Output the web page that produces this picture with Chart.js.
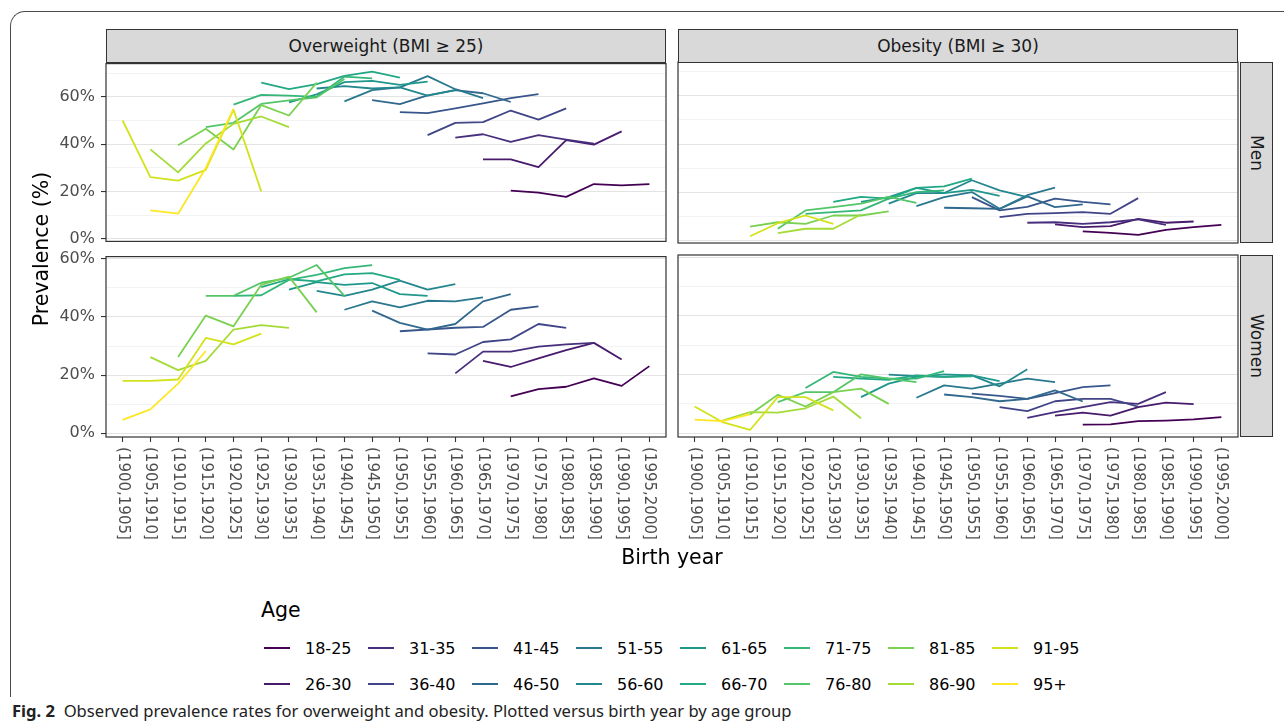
<!DOCTYPE html>
<html><head><meta charset="utf-8">
<script src="https://cdn.jsdelivr.net/npm/chart.js@4.4.1/dist/chart.umd.min.js"></script>
<style>
html,body{margin:0;padding:0;background:#fff;}
body{width:1284px;height:728px;overflow:hidden;position:relative;font-family:"DejaVu Sans",sans-serif;}
canvas{position:absolute;}
.frame{position:absolute;left:10px;top:11px;width:1320px;height:686px;border-top:1.3px solid #4a4a4a;border-left:1.3px solid #4a4a4a;border-top-left-radius:15px;box-sizing:border-box;}
.strip{position:absolute;background:#D9D9D9;border:1.2px solid #333;box-sizing:border-box;display:flex;align-items:center;justify-content:center;color:#1a1a1a;font-size:17px;z-index:2;}
.vstrip{writing-mode:vertical-rl;}
.ytitle{position:absolute;left:-59px;top:237px;width:200px;height:24px;line-height:24px;text-align:center;font-size:20.5px;color:#000;transform:rotate(-90deg);}
.xtitle{position:absolute;left:472px;top:547px;width:400px;line-height:20.5px;text-align:center;font-size:20.5px;color:#000;}
.ltitle{position:absolute;left:261px;top:600px;line-height:20.5px;font-size:20.5px;color:#000;}
.litem{position:absolute;height:20px;display:flex;align-items:center;font-size:16px;color:#000;}
.litem span.key{display:inline-block;width:26px;height:2px;margin-right:15px;}
.caption{position:absolute;left:12px;top:699px;font-family:"Noto Sans",sans-serif;font-size:16.6px;color:#222;white-space:nowrap;}
</style></head>
<body>
<div class="frame"></div>
<canvas id="c1" width="672" height="209" style="left:0px;top:48px"></canvas>
<canvas id="c2" width="572" height="209" style="left:672px;top:48px"></canvas>
<canvas id="c3" width="672" height="306" style="left:0px;top:241px"></canvas>
<canvas id="c4" width="572" height="306" style="left:672px;top:241px"></canvas>
<div class="strip" style="left:106px;top:29px;width:560px;height:34px">Overweight (BMI ≥ 25)</div>
<div class="strip" style="left:678px;top:29px;width:560px;height:34px">Obesity (BMI ≥ 30)</div>
<div class="strip vstrip" style="left:1240px;top:62px;width:33px;height:181px">Men</div>
<div class="strip vstrip" style="left:1240px;top:255px;width:33px;height:182px">Women</div>
<div class="ytitle">Prevalence (%)</div>
<div class="xtitle">Birth year</div>
<div class="ltitle">Age</div>
<div id="legend"></div>
<div class="caption"><b>Fig. 2</b>&nbsp; Observed prevalence rates for overweight and obesity. Plotted versus birth year by age group</div>
<script>
// ---- data ----
const cohorts = ["(1900,1905]","(1905,1910]","(1910,1915]","(1915,1920]","(1920,1925]","(1925,1930]","(1930,1935]","(1935,1940]","(1940,1945]","(1945,1950]","(1950,1955]","(1955,1960]","(1960,1965]","(1965,1970]","(1970,1975]","(1975,1980]","(1980,1985]","(1985,1990]","(1990,1995]","(1995,2000]"];
const ages = ["18-25","26-30","31-35","36-40","41-45","46-50","51-55","56-60","61-65","66-70","71-75","76-80","81-85","86-90","91-95","95+"];
const colors = ["#440154","#481A6C","#472F7D","#414487","#39568C","#31688E","#2A788E","#23888E","#1F988B","#22A884","#35B779","#54C568","#7AD151","#A5DB36","#D2E21B","#FDE725"];
const yTicksTop = [0,10,20,30,40,50,60,70];
const yTicksBottom = [0,10,20,30,40,50,60];

// first cohort index of each age-group line, per panel
const owMenStart = [14,13,12,11,10,9,8,7,6,5,4,3,2,1,0,1];
const owMen = [
  [20.4,19.6,17.8,23.2,22.6,23.2],
  [33.6,33.6,30.3,41.7,39.8,45.4],
  [42.8,44.2,41.0,43.8,41.9,40.2],
  [43.8,49.0,49.3,54.2,50.4,55.1],
  [53.5,53.1,55.1,57.2,59.4,61.1],
  [58.6,56.9,60.6,62.8,61.5,57.8],
  [58.1,62.8,64.0,68.7,63.2,59.4],
  [63.5,64.5,63.5,64.0,60.5,62.8],
  [57.6,61.0,66.2,66.7,65.0,66.4],
  [66.0,63.2,65.3,68.8,70.6,68.1],
  [56.7,60.8,60.5,60.0,68.5,67.8],
  [47.2,49.0,57.0,58.5,59.8,67.5],
  [39.6,46.5,37.8,56.5,52.1,66.0],
  [37.8,28.1,40.3,48.6,51.7,47.2],
  [50.0,26.1,24.6,29.2,54.5,20.1],
  [12.1,10.7,30.0,55.0]
];
const obMenStart = [14,13,12,11,10,9,8,7,6,5,4,3,2,3,2,0];
const obMen = [
  [3.8,3.2,2.4,4.4,5.6,6.5],
  [6.7,5.6,6.0,9.0,7.4,7.9],
  [7.4,7.6,6.9,7.6,8.8,6.5],
  [9.7,11.1,11.4,11.8,11.1,17.6],
  [18.0,12.5,14.0,17.4,16.0,15.0],
  [13.6,13.4,13.1,18.3,13.9,15.0],
  [14.3,18.0,20.1,13.2,18.8,21.9],
  [15.3,19.7,19.7,25.0,20.8,18.0],
  [16.0,18.0,21.8,19.7,21.0,18.5],
  [16.0,18.1,17.4,21.8,22.5,25.7],
  [11.1,11.8,12.5,17.4,20.1,20.8],
  [4.9,12.5,13.9,15.3,18.1,15.6],
  [5.8,7.6,6.9,10.4,10.4,12.1],
  [3.1,4.9,4.9,10.8],
  [1.8,7.2,10.4,6.9],
  []
];
const owWomenStart = [14,13,12,11,10,9,8,7,6,5,4,3,2,1,0,0];
const owWomen = [
  [12.7,15.2,16.0,18.9,16.3,23.1],
  [24.9,22.8,25.8,28.6,31.1,25.4],
  [20.6,28.1,28.1,29.8,30.6,31.1],
  [27.5,27.1,31.4,32.3,37.6,36.3],
  [35.1,35.7,36.3,36.6,42.5,43.7],
  [42.2,38.0,35.7,37.6,45.4,47.9],
  [42.5,45.4,43.3,45.6,45.4,46.8],
  [49.0,47.3,49.4,52.5,49.4,51.3],
  [49.4,52.0,51.1,51.7,47.9,47.3],
  [50.3,53.0,52.3,54.7,55.1,52.8],
  [47.3,47.5,52.8,54.5,56.8,57.9],
  [47.3,47.3,51.8,53.5,57.9,47.3],
  [26.2,40.5,36.8,51.1,53.9,41.6],
  [26.2,21.7,24.9,35.7,37.2,36.3],
  [18.0,18.0,18.5,32.8,30.6,34.3],
  [4.6,8.2,17.1,28.3]
];
const obWomenStart = [14,13,12,11,10,9,8,7,6,5,4,3,2,1,0,0];
const obWomen = [
  [2.9,3.0,4.1,4.3,4.7,5.5],
  [6.0,7.0,6.0,8.9,10.4,9.9],
  [5.2,7.2,8.9,10.6,10.0,14.0],
  [8.9,7.5,10.9,11.7,11.7,9.1],
  [13.5,12.7,11.7,13.7,15.7,16.3],
  [13.2,12.3,10.9,11.7,14.6,10.8],
  [12.1,16.3,15.2,16.9,18.6,17.4],
  [20.0,19.5,19.2,19.7,16.0,21.8],
  [12.3,16.9,19.2,20.1,19.7,17.8],
  [19.2,18.6,18.2,19.7,19.2,19.4],
  [15.4,20.9,19.2,18.6,18.6,21.2],
  [10.6,14.0,14.0,20.1,18.6,17.4],
  [6.4,13.1,9.1,14.0,15.2,10.0],
  [4.3,7.2,7.0,8.5,12.5,5.1],
  [9.1,3.8,1.1,12.3,12.3,7.8],
  [4.6,4.1,6.4]
];

// ---- legend (column-major, 2 rows) ----
(function(){
  const lg = document.getElementById('legend');
  ages.forEach((a,j)=>{
    const col = Math.floor(j/2), row = j%2;
    const d = document.createElement('div');
    d.className='litem';
    d.style.left = (264 + col*104) + 'px';
    d.style.top = (638 + row*36) + 'px';
    d.innerHTML = '<span class="key" style="background:'+colors[j]+'"></span>'+a;
    lg.appendChild(d);
  });
})();

// ---- plugins ----
const panelBorder = {
  id:'panelBorder',
  afterDatasetsDraw(chart){
    const {ctx, chartArea:a} = chart;
    ctx.save(); ctx.strokeStyle='#333'; ctx.lineWidth=1.2;
    ctx.strokeRect(a.left, a.top, a.right-a.left, a.bottom-a.top);
    ctx.restore();
  }
};
const xLabels = {
  id:'xLabels',
  afterDraw(chart, args, opts){
    if(!opts.show) return;
    const sx = chart.scales.x, ctx = chart.ctx;
    ctx.save();
    ctx.fillStyle='#4D4D4D';
    ctx.font='15px "DejaVu Sans"';
    ctx.textAlign='left'; ctx.textBaseline='middle';
    cohorts.forEach((c,i)=>{
      const x = sx.getPixelForValue(i);
      ctx.save(); ctx.translate(x, chart.chartArea.bottom + 10); ctx.rotate(Math.PI/2);
      ctx.fillText(c, 0, 0); ctx.restore();
    });
    ctx.restore();
  }
};

function makeChart(id, starts, vals, yMin, yMax, yTicks, isLeft, isBottom){
  const datasets = ages.map((a,j)=>({
    label:a,
    data: vals[j].map((v,k)=>({x: starts[j]+k, y: v})),
    borderColor: colors[j], backgroundColor: colors[j],
    borderWidth: 1.8, pointRadius: 0, tension: 0, fill: false,
    borderJoinStyle:'round', order: 16-j
  }));
  const isMajor = c => c.tick && (c.tick.value % 20 === 0);
  return new Chart(document.getElementById(id), {
    type:'line',
    data:{datasets},
    options:{
      responsive:false, animation:false, maintainAspectRatio:false,
      layout:{padding:{top:14, bottom: isBottom?0:14, left: isLeft?0:6, right:6}},
      plugins:{legend:{display:false}, tooltip:{enabled:false}, xLabels:{show:isBottom}},
      scales:{
        x:{type:'linear', min:-0.6, max:19.6, display:isBottom,
           afterBuildTicks: s => { s.ticks = cohorts.map((c,i)=>({value:i})); },
           afterFit: s => { s.height = isBottom ? 110 : 0; },
           ticks:{display:false},
           grid:{drawOnChartArea:false, drawTicks:true, tickLength:5, tickColor:'#333', tickWidth:1.1},
           border:{display:false}},
        y:{type:'linear', min:yMin, max:yMax,
           afterBuildTicks: s => { s.ticks = yTicks.map(v=>({value:v})); },
           afterFit: s => { s.width = isLeft ? 106 : 0; },
           ticks:{display:isLeft, padding:6, color:'#4D4D4D', font:{family:'DejaVu Sans', size:16},
                  callback: v => (v % 20 === 0) ? v + '%' : ''},
           grid:{color: c => isMajor(c) ? '#E3E3E3' : '#F0F0F0',
                 lineWidth: c => isMajor(c) ? 1.1 : 0.8,
                 drawTicks: isLeft, tickLength:5, tickWidth:1.1,
                 tickColor: c => isMajor(c) ? '#333' : 'rgba(0,0,0,0)'},
           border:{display:false}}
      }
    },
    plugins:[panelBorder, xLabels]
  });
}

makeChart('c1', owMenStart, owMen, -1.0, 74.0, yTicksTop, true, false);
makeChart('c2', obMenStart, obMen, -1.0, 74.0, yTicksTop, false, false);
makeChart('c3', owWomenStart, owWomen, -1.3, 60.8, yTicksBottom, true, true);
makeChart('c4', obWomenStart, obWomen, -1.3, 60.8, yTicksBottom, false, true);
</script>
</body></html>
